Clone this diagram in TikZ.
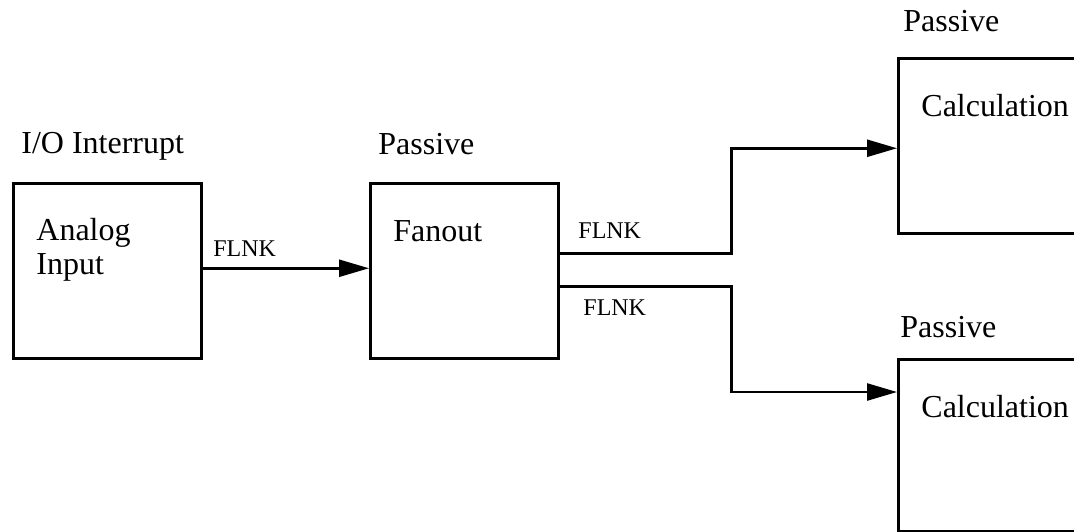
\documentclass[tikz,border=0pt]{standalone}
\usepackage{fontspec}
\setmainfont{Liberation Serif}
\usetikzlibrary{arrows.meta}
\tikzset{
  box/.style={draw, line width=1.25pt, rectangle, inner sep=0pt, anchor=north west},
  lbl/.style={inner sep=0pt, anchor=base west, font=\fontsize{16}{19}\selectfont},
  lnk/.style={inner sep=0pt, anchor=base west, font=\fontsize{12}{14}\selectfont},
  arr/.style={line width=1.25pt, -{Triangle[length=15pt,width=8.5pt]}},
  con/.style={line width=1.25pt}
}
\begin{document}
\begin{tikzpicture}[x=0.5pt,y=-0.5pt]
\useasboundingbox (0,0) rectangle (1074,531);
\clip (0,0) rectangle (1074,531);
% boxes
\node[box, minimum width=94pt, minimum height=87.5pt] (ai) at (12,182) {};
\node[box, minimum width=94pt, minimum height=87.5pt] (fo) at (369,182) {};
\node[box, minimum width=100pt, minimum height=87.5pt] (c1) at (897,57) {};
\node[box, minimum width=100pt, minimum height=86pt] (c2) at (897,358) {};
% labels
\node[lbl] (t1) at (21,153) {I/O Interrupt};
\node[lbl] (t2) at (36,240) {Analog};
\node[lbl] (t3) at (36,274) {Input};
\node[lbl] (t4) at (378,154) {Passive};
\node[lbl] (t5) at (393,241) {Fanout};
\node[lbl] (t6) at (903,31) {Passive};
\node[lbl] (t7) at (921,116) {Calculation};
\node[lbl] (t8) at (900,337) {Passive};
\node[lbl] (t9) at (921,417) {Calculation};
\node[lnk] (f1) at (213,256) {FLNK};
\node[lnk] (f2) at (578,238) {FLNK};
\node[lnk] (f3) at (583,315) {FLNK};
% connectors
\draw[arr] ([yshift=1.25pt]ai.east) -- ([yshift=1.25pt]fo.west);
\draw[arr] ([yshift=8.75pt]fo.east) -- ++(86pt,0) |- ([yshift=-1.25pt]c1.west);
\draw[arr] ([yshift=-7.75pt]fo.east) -- ++(86pt,0) |- ([yshift=-17pt]c2.north west);
\end{tikzpicture}
\end{document}
